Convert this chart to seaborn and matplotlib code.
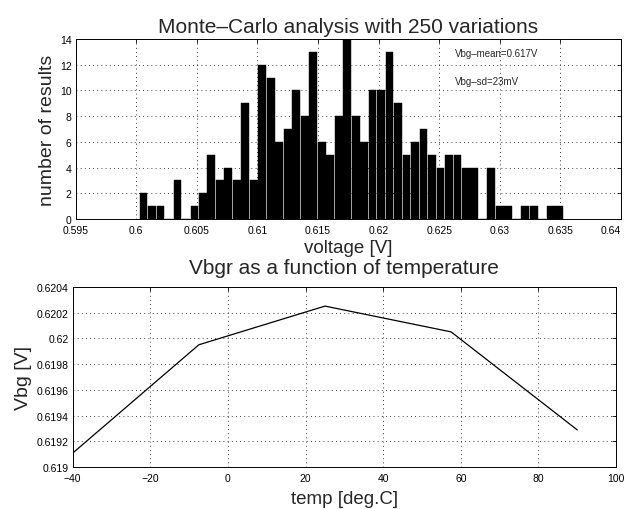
import numpy as np
import pandas as pd
import matplotlib
matplotlib.use("Agg")
import matplotlib.pyplot as plt
import seaborn as sns
from matplotlib.ticker import FormatStrFormatter, MultipleLocator

# histogram counts (50 bins)
counts = [2, 1, 1, 0, 3, 0, 1, 2, 5, 3,
          4, 3, 9, 3, 12, 11, 6, 7, 10, 8,
          13, 6, 5, 8, 14, 8, 6, 10, 10, 13,
          9, 5, 6, 7, 5, 4, 5, 5, 4, 4,
          0, 4, 1, 1, 0, 1, 1, 0, 1, 1]
bin_start = 0.60025
bin_width = 0.0007

# Vbg vs temperature
temps = [-40, -7.5, 25, 57.5, 90]
vbg = [0.61911, 0.61995, 0.62025, 0.62005, 0.61929]

volt_ticks = [0.595, 0.6, 0.605, 0.61, 0.615, 0.62, 0.625, 0.63, 0.635, 0.64]
temp_ticks = [-40, -20, 0, 20, 40, 60, 80, 100]

sns.set_style("white")
plt.rcParams["font.family"] = ["Liberation Sans", "DejaVu Sans"]

edges = bin_start + bin_width * np.arange(len(counts) + 1)
hist_df = pd.DataFrame({"volt": edges[:-1] + bin_width / 2, "n": counts})

fig = plt.figure(figsize=(6.29, 5.10), dpi=100)
ax1 = fig.add_axes([0.1203, 0.5686, 0.867, 0.353])
ax2 = fig.add_axes([0.1156, 0.0818, 0.8638, 0.354])

grid_kw = dict(color="black", linestyle=(0, (1, 4)), linewidth=0.6)

# histogram
sns.histplot(data=hist_df, x="volt", weights="n", bins=list(edges), color="black",
             edgecolor="black", linewidth=0.3, alpha=1, shrink=0.92, ax=ax1)
ax1.set_xlim(0.595, 0.64)
ax1.set_ylim(0, 14)
ax1.set_xticks(volt_ticks)
ax1.xaxis.set_major_formatter(FormatStrFormatter("%g"))
ax1.yaxis.set_major_locator(MultipleLocator(2))
ax1.grid(True, **grid_kw)
ax1.set_title("Monte–Carlo analysis with 250 variations", fontsize=15, pad=5)
ax1.set_xlabel("voltage [V]", fontsize=13.5, labelpad=3)
ax1.set_ylabel("number of results", fontsize=14, labelpad=3)
ax1.text(0.6263, 12.9, "Vbg–mean=0.617V", fontsize=7, va="center")
ax1.text(0.6263, 10.75, "Vbg–sd=23mV", fontsize=7, va="center")

# Vbg vs temp
sns.lineplot(x=temps, y=vbg, color="black", linewidth=0.9, ax=ax2)
ax2.set_xlim(-40, 100)
ax2.set_ylim(0.619, 0.6204)
ax2.set_xticks(temp_ticks)
ax2.yaxis.set_major_locator(MultipleLocator(0.0002))
ax2.yaxis.set_major_formatter(FormatStrFormatter("%g"))
ax2.grid(True, **grid_kw)
ax2.set_title("Vbgr as a function of temperature", fontsize=15, pad=10)
ax2.set_xlabel("temp [deg.C]", fontsize=13.5, labelpad=5)
ax2.set_ylabel("Vbg [V]", fontsize=14, labelpad=3)

for ax in (ax1, ax2):
    ax.tick_params(direction="in", top=True, right=True, length=3,
                   width=0.6, labelsize=7.5, colors="black")
    ax.tick_params(axis="x", pad=4)
    ax.tick_params(axis="y", pad=3)
    for s in ax.spines.values():
        s.set_color("black")
        s.set_linewidth(0.7)

# keep the last voltage tick label inside the figure
fig.canvas.draw()
ax1.get_xticklabels()[-1].set_horizontalalignment("right")

fig.savefig("out.png", dpi=100)
plt.close(fig)
